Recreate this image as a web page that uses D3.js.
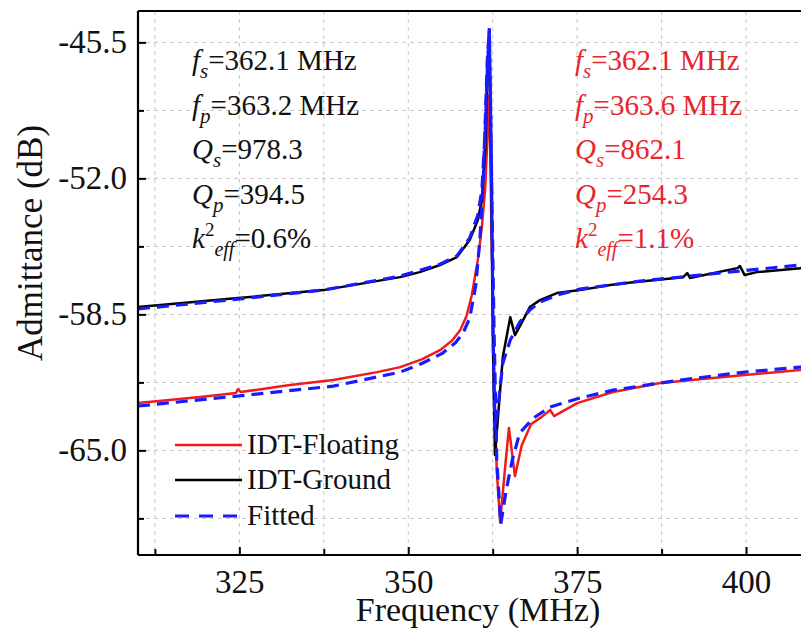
<!DOCTYPE html>
<html>
<head>
  <meta charset="UTF-8">
  <script src="https://d3js.org/d3.v7.min.js"></script>
  <style>
    text, tspan { font-family: 'Liberation Serif' !important; }
  </style>
</head>
<body style="margin:0">
  <svg></svg>
  <script>
    // data: [frequency MHz, admittance dB]
    const ground = [
      [310.0, -58.15], [324.8, -57.72], [337.4, -57.34], [348.8, -56.72], [351.7, -56.48],
      [354.7, -56.14], [357.2, -55.76], [359.1, -54.95], [360.3, -53.99], [360.9, -53.04],
      [361.4, -50.65], [361.7, -47.45], [362.0, -44.91], [362.25, -50.65], [362.55, -60.21],
      [362.84, -65.22], [363.6, -62.12], [364.0, -60.54], [365.1, -58.63], [365.8, -59.49],
      [367.0, -58.77], [368.0, -58.15], [369.5, -57.82], [372.0, -57.48], [375.4, -57.34],
      [379.9, -57.1], [383.3, -56.96], [390.7, -56.72], [391.3, -56.53], [391.7, -56.76],
      [398.7, -56.29], [399.1, -56.19], [399.8, -56.62], [401.6, -56.48], [408.0, -56.29],
      [410.0, -56.19]
    ];
    const floating = [
      [310.0, -62.74], [319.2, -62.45], [324.5, -62.26], [324.8, -62.07], [325.2, -62.21],
      [332.5, -61.88], [338.9, -61.64], [345.4, -61.26], [348.8, -61.02], [352.0, -60.65],
      [354.7, -60.21], [356.5, -59.75], [357.7, -59.25], [358.6, -58.6], [359.4, -57.6],
      [360.3, -55.9], [360.9, -54.33], [361.4, -52.42], [361.7, -50.17], [362.0, -48.02],
      [362.25, -53.04], [362.7, -61.64], [363.1, -65.94], [363.6, -68.43], [364.3, -65.94],
      [364.9, -63.93], [365.8, -66.23], [366.8, -64.75], [368.2, -63.74], [369.5, -63.46],
      [371.0, -63.07], [371.6, -63.36], [375.0, -62.74], [380.3, -62.21], [387.3, -61.78],
      [399.8, -61.4], [408.0, -61.16], [410.0, -61.07]
    ];
    const fitGround = [
      [310.0, -58.24], [324.8, -57.77], [337.4, -57.34], [348.8, -56.67], [354.7, -56.1],
      [357.2, -55.71], [359.1, -54.85], [360.3, -53.75], [360.9, -52.56], [361.4, -49.69],
      [361.7, -46.82], [362.0, -44.82], [362.25, -49.69], [362.55, -59.25], [362.84, -64.03],
      [363.4, -62.6], [364.0, -60.83], [365.1, -59.73], [366.5, -58.87], [368.0, -58.29],
      [369.5, -57.91], [372.5, -57.53], [375.4, -57.29], [384.3, -56.91], [393.2, -56.62],
      [408.0, -56.14], [410.0, -56.1]
    ];
    const fitFloating = [
      [310.0, -62.88], [324.8, -62.4], [338.9, -61.93], [348.8, -61.26], [352.0, -60.85],
      [355.1, -60.35], [357.0, -59.85], [358.1, -59.4], [359.1, -58.68], [360.0, -57.1],
      [360.6, -54.95], [361.1, -52.08], [361.4, -49.21], [361.7, -46.35], [362.0, -44.91],
      [362.25, -50.17], [362.7, -59.25], [363.1, -65.46], [363.7, -68.52], [364.5, -66.9],
      [365.4, -65.46], [366.5, -64.17], [368.5, -63.46], [371.0, -62.93], [375.4, -62.5],
      [380.3, -62.12], [390.2, -61.64], [399.8, -61.26], [408.0, -61.02], [410.0, -60.97]
    ];
    const xTicks = [325, 350, 375, 400];
    const xMinor = [312.5, 337.5, 362.5, 387.5];
    const yTicks = [-45.5, -52.0, -58.5, -65.0];
    const yMinor = [-48.75, -55.25, -61.75, -68.25];
    const blackNotes = [['f', 's', '=362.1 MHz'], ['f', 'p', '=363.2 MHz'], ['Q', 's', '=978.3'], ['Q', 'p', '=394.5'], ['k', 'eff', '=0.6%']];
    const redNotes = [['f', 's', '=362.1 MHz'], ['f', 'p', '=363.6 MHz'], ['Q', 's', '=862.1'], ['Q', 'p', '=254.3'], ['k', 'eff', '=1.1%']];

    const RED = '#f01c1c', BLUE = '#1a1aff', RED_TEXT = '#e8252c';
    const SERIF = 'Liberation Serif';

    const W = 801, H = 630;
    const margin = { top: 11, left: 138 };
    const width = 675.6, height = 544;

    const svg = d3.select('svg').attr('width', W).attr('height', H).style('display', 'block');

    svg.append('defs').append('clipPath').attr('id', 'clip')
      .append('rect').attr('width', width).attr('height', height);

    const g = svg.append('g').attr('transform', `translate(${margin.left},${margin.top})`);

    const x = d3.scaleLinear().domain([310, 410]).range([0, width]);
    const y = d3.scaleLinear().domain([-70, -44]).range([height, 0]);

    // grid
    const grid = g.append('g').attr('stroke', '#c4c4c4').attr('stroke-dasharray', '4,4').attr('stroke-width', 1);
    grid.selectAll('.gx').data(xTicks.concat(xMinor)).enter().append('line')
      .attr('x1', d => x(d)).attr('x2', d => x(d)).attr('y1', 0).attr('y2', height);
    grid.selectAll('.gy').data(yTicks.concat(yMinor)).enter().append('line')
      .attr('x1', 0).attr('x2', width).attr('y1', d => y(d)).attr('y2', d => y(d));

    // curves
    const line = d3.line().x(d => x(d[0])).y(d => y(d[1]));
    const plot = g.append('g').attr('clip-path', 'url(#clip)');
    plot.append('path').datum(floating).attr('d', line)
      .attr('fill', 'none').attr('stroke', RED).attr('stroke-width', 2.5).attr('stroke-linejoin', 'round');
    plot.append('path').datum(ground).attr('d', line)
      .attr('fill', 'none').attr('stroke', '#000').attr('stroke-width', 2.5).attr('stroke-linejoin', 'round');
    [fitGround, fitFloating].forEach(s => {
      plot.append('path').datum(s).attr('d', line)
        .attr('fill', 'none').attr('stroke', BLUE).attr('stroke-width', 3.2)
        .attr('stroke-dasharray', '12,7');
    });

    // axes with inward ticks
    const xAxis = g.append('g').attr('transform', `translate(0,${height})`)
      .call(d3.axisBottom(x).tickValues(xTicks).tickSize(-8).tickFormat(d3.format('d')));
    g.append('g').attr('transform', `translate(0,${height})`)
      .call(d3.axisBottom(x).tickValues(xMinor).tickSize(-6).tickFormat(''));
    const yAxis = g.append('g')
      .call(d3.axisLeft(y).tickValues(yTicks).tickSize(-8).tickPadding(11).tickFormat(d3.format('.1f')));
    g.append('g')
      .call(d3.axisLeft(y).tickValues(yMinor).tickSize(-6).tickFormat(''));

    g.selectAll('.domain').remove();
    g.selectAll('.tick line').attr('stroke', '#000').attr('stroke-width', 2);
    [xAxis, yAxis].forEach(a => a.attr('font-family', SERIF).attr('font-size', 33));
    g.selectAll('.tick text').attr('fill', '#111').style('font-family', SERIF, 'important');
    xAxis.selectAll('.tick text').attr('y', 38).attr('dy', 0);
    yAxis.selectAll('.tick text').text(d => d3.format('.1f')(d).replace('\u2212', '-'));

    // frame (left, bottom, top)
    g.append('line').attr('x1', 0).attr('x2', 0).attr('y1', 0).attr('y2', height).attr('stroke', '#000').attr('stroke-width', 2.2);
    g.append('line').attr('x1', 0).attr('x2', width).attr('y1', height).attr('y2', height).attr('stroke', '#000').attr('stroke-width', 2.2);
    g.append('line').attr('x1', 0).attr('x2', width).attr('y1', 0).attr('y2', 0).attr('stroke', '#000').attr('stroke-width', 2.2);

    // axis titles
    svg.append('text').attr('x', 478).attr('y', 621).attr('text-anchor', 'middle')
      .attr('font-family', SERIF).style('font-family', SERIF, 'important')
      .attr('font-size', 34).attr('fill', '#111').text('Frequency (MHz)');
    svg.append('text').attr('transform', 'translate(42,243) rotate(-90)').attr('text-anchor', 'middle')
      .attr('font-family', SERIF).style('font-family', SERIF, 'important')
      .attr('font-size', 35).attr('fill', '#111').text('Admittance (dB)');

    // parameter notes
    function notes(list, x0, color) {
      list.forEach((n, i) => {
        const t = svg.append('text').attr('x', x0).attr('y', 70 + i * 44.5)
          .attr('font-family', SERIF).style('font-family', SERIF, 'important')
          .attr('font-size', 29).attr('fill', color);
        t.append('tspan').attr('font-style', 'italic').text(n[0]);
        if (n[0] === 'k') {
          t.append('tspan').attr('font-size', 19).attr('dy', -12).text('2');
          t.append('tspan').attr('font-style', 'italic').attr('font-size', 20).attr('dy', 20).text(n[1]);
          t.append('tspan').attr('dy', -8).text(n[2]);
        } else {
          t.append('tspan').attr('font-style', 'italic').attr('font-size', 21).attr('dy', 8).text(n[1]);
          t.append('tspan').attr('dy', -8).text(n[2]);
        }
      });
    }
    notes(blackNotes, 192, '#111');
    notes(redNotes, 575, RED_TEXT);

    // legend
    const legend = [
      { label: 'IDT-Floating', color: RED, dash: null, y: 445 },
      { label: 'IDT-Ground', color: '#000', dash: null, y: 480 },
      { label: 'Fitted', color: BLUE, dash: '14,10', y: 516 }
    ];
    legend.forEach(d => {
      svg.append('line').attr('x1', 175).attr('x2', 242).attr('y1', d.y).attr('y2', d.y)
        .attr('stroke', d.color).attr('stroke-width', d.dash ? 3.2 : 2.5)
        .attr('stroke-dasharray', d.dash);
      svg.append('text').attr('x', 247).attr('y', d.y + 9)
        .attr('font-family', SERIF).style('font-family', SERIF, 'important')
        .attr('font-size', 29).attr('fill', '#111').text(d.label);
    });
  </script>
</body>
</html>
